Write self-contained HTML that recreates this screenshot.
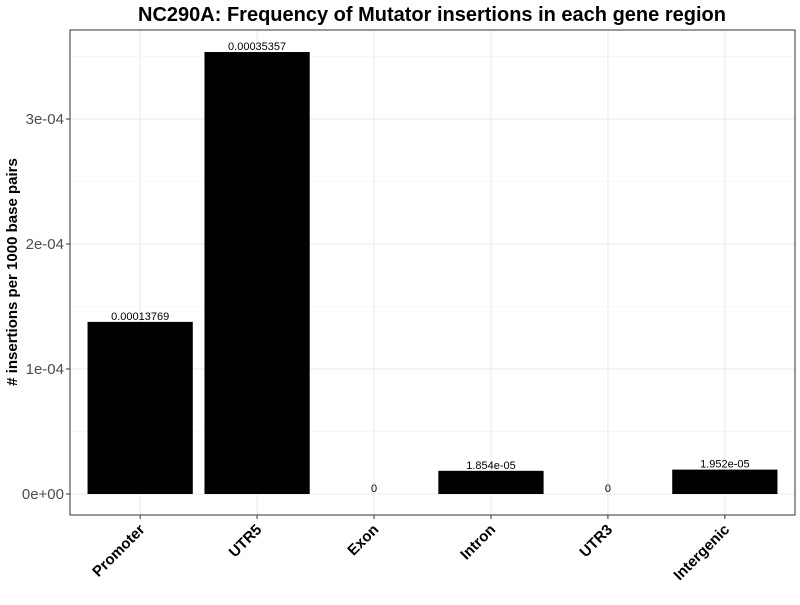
<!DOCTYPE html>
<html><head><meta charset="utf-8"><style>
body{margin:0;background:#fff;}
svg text{font-family:"Liberation Sans",Arial,sans-serif;}
</style></head><body>
<svg id="chart" width="800" height="600"></svg>
<script>
const categories=["Promoter","UTR5","Exon","Intron","UTR3","Intergenic"];
const values=[0.00013769,0.00035357,0,0.00001854,0,0.00001952];
const valueLabels=["0.00013769","0.00035357","0","1.854e-05","0","1.952e-05"];
const yTicks=[0,0.0001,0.0002,0.0003];
const yTickLabels=["0e+00","1e-04","2e-04","3e-04"];
const NS="http://www.w3.org/2000/svg";
const svg=document.getElementById('chart');
const L=70,R=795,T=30,B=515;
const y0=494,pxPer=125/0.0001;
function y(v){return y0-v*pxPer;}
const band=(R-L)/(categories.length+0.2);
function x(i){return L+band*(0.6+i);}
function mk(t,a,p){const e=document.createElementNS(NS,t);for(const k in a)e.setAttribute(k,a[k]);(p||svg).appendChild(e);return e;}
const panel=mk('rect',{x:L,y:T,width:R-L,height:B-T,fill:'#fff'});


for(let i=0;i<yTicks.length;i++){const v=yTicks[i]+0.00005;if(y(v)>T){const g=mk('line',{x1:L,x2:R,y1:y(v),y2:y(v),stroke:'#f2f2f2','stroke-width':0.6});}}
yTicks.forEach((v,i)=>{
 const g=mk('line',{x1:L,x2:R,y1:y(v),y2:y(v),stroke:'#ebebeb','stroke-width':1.1});
 
 
 const tk=mk('line',{x1:L-4,x2:L,y1:y(v),y2:y(v),stroke:'#333'});
 
 
 const t=mk('text',{x:L-6,y:y(v)+5,'text-anchor':'end','font-size':15,fill:'#4d4d4d'});t.textContent=yTickLabels[i];
 
 
});
categories.forEach((c,i)=>{
 const cx=x(i);
 const g=mk('line',{x1:cx,x2:cx,y1:T,y2:B,stroke:'#ebebeb','stroke-width':1.1});
 
 
});
categories.forEach((c,i)=>{
 const cx=x(i),w=band*0.9;
 const b=mk('rect',{x:cx-w/2,y:y(values[i]),width:w,height:Math.max(0,y0-y(values[i])),fill:'#000'});
 
 
 const vl=mk('text',{x:cx,y:y(values[i])-2,'text-anchor':'middle','font-size':11,fill:'#000'});vl.textContent=valueLabels[i];
 
 
 const tk=mk('line',{x1:cx,x2:cx,y1:B,y2:B+4,stroke:'#333'});
 
 
 const ax=cx-2,ay=B+8;
 const t=mk('text',{x:ax,y:ay,'text-anchor':'end','font-size':15,'font-weight':'bold',fill:'#000',transform:`rotate(-45 ${ax} ${ay})`,dy:'0.7em'});t.textContent=c;
 
 
});
const border=mk('rect',{x:L,y:T,width:R-L,height:B-T,fill:'none',stroke:'#333','stroke-width':1});


const title=mk('text',{x:432,y:21,'text-anchor':'middle','font-size':20,'font-weight':'bold'});title.textContent="NC290A: Frequency of Mutator insertions in each gene region";


const yt=mk('text',{x:17,y:272,'text-anchor':'middle','font-size':15,'font-weight':'bold',transform:'rotate(-90 17 272)'});yt.textContent="# insertions per 1000 base pairs";


</script>
</body></html>
